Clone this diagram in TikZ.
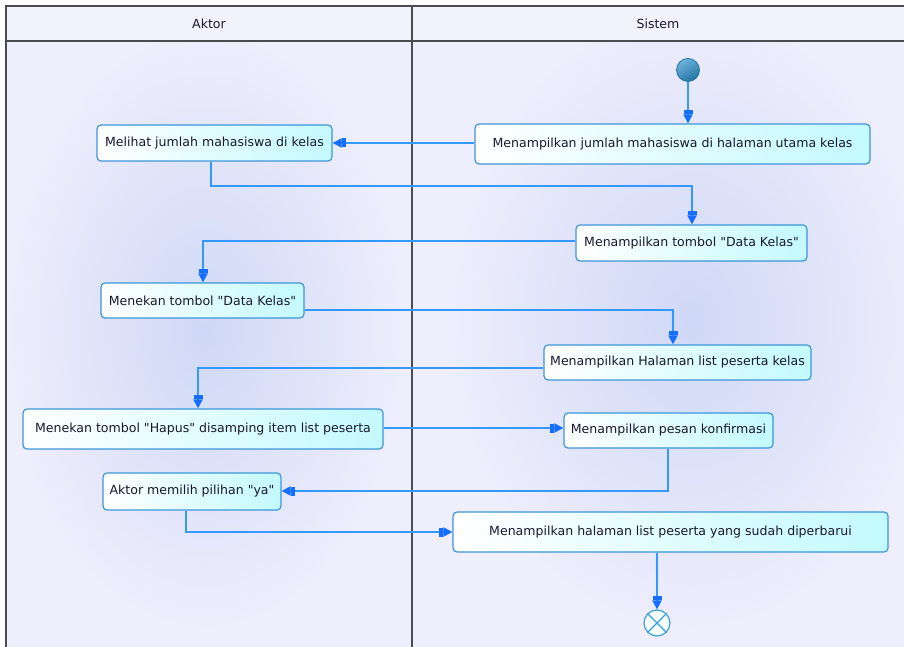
\documentclass[tikz,border=0pt]{standalone}
\usepackage{fontspec}
\setmainfont{DejaVu Sans}[Ligatures=TeXOff]
\usetikzlibrary{arrows.meta}

\definecolor{bgc}{RGB}{238,238,252}
\definecolor{hdrc}{RGB}{241,242,252}
\definecolor{glowc}{RGB}{207,216,246}
\definecolor{framec}{RGB}{75,75,80}
\definecolor{edgec}{RGB}{51,153,255}
\definecolor{tipc}{RGB}{20,110,255}
\definecolor{boxline}{RGB}{60,150,215}
\definecolor{boxfill}{RGB}{195,250,255}
\definecolor{txtc}{RGB}{25,25,45}
\definecolor{startlight}{RGB}{110,180,220}
\definecolor{startdark}{RGB}{35,115,165}
\definecolor{endline}{RGB}{60,160,220}

\begin{document}
\begin{tikzpicture}[x=1bp,y=-1bp,
  action/.style={draw=boxline, line width=1.2bp, rounded corners=4bp,
    left color=white, right color=boxfill, minimum height=36bp,
    inner sep=0pt, font=\fontsize{12.6}{14}\selectfont, text=txtc},
  flow/.style={draw=edgec, line width=2bp,
    -{Rectangle[length=4bp,width=9bp,color=tipc]Triangle[length=9bp,width=9bp,color=tipc]}},
  lane/.style={font=\fontsize{12.6}{14}\selectfont, text=txtc},
  frameline/.style={draw=framec, line width=2bp}
]
\useasboundingbox (0,0) rectangle (904,647);
\fill[white] (0,0) rectangle (904,647);

% swimlane background with soft glows
\fill[bgc] (5,6) rectangle (904,647);
\begin{scope}
  \clip (5,41) rectangle (412,647);
  \shade[inner color=glowc, outer color=bgc] (205,330) ellipse (200 and 300);
\end{scope}
\begin{scope}
  \clip (412,41) rectangle (904,647);
  \shade[inner color=glowc, outer color=bgc] (690,320) ellipse (240 and 310);
\end{scope}
\fill[hdrc] (5,6) rectangle (904,41);

% lane frame
\draw[frameline] (904,6) -- (6,6) -- (6,647);
\draw[frameline] (6,41) -- (904,41);
\draw[frameline] (412,6) -- (412,647);

\node[lane] (hAktor) at (209,23.5) {Aktor};
\node[lane] (hSistem) at (658,23.5) {Sistem};

% initial and final nodes
\node[circle, minimum size=23bp, inner sep=0pt, draw=startdark, line width=0.8bp,
  top color=startlight, bottom color=startdark, shading angle=30] (start) at (688,70) {};
\node[circle, minimum size=26bp, inner sep=0pt, draw=endline, line width=1.2bp,
  fill=white!85!boxfill] (final) at (657,623) {};
\draw[endline, line width=1.1bp] (final.north east) -- (final.south west)
  (final.north west) -- (final.south east);

% actions
\node[action, minimum width=395bp, minimum height=40bp] (S1) at (672.5,144)
  {Menampilkan jumlah mahasiswa di halaman utama kelas};
\node[action, minimum width=235bp] (A1) at (214.5,143)
  {Melihat jumlah mahasiswa di kelas};
\node[action, minimum width=231bp] (S2) at (691.5,243)
  {Menampilkan tombol "Data Kelas"};
\node[action, minimum width=203bp, minimum height=35bp] (A2) at (202.5,300.5)
  {Menekan tombol "Data Kelas"};
\node[action, minimum width=267bp, minimum height=35bp] (S3) at (677.5,362.5)
  {Menampilkan Halaman list peserta kelas};
\node[action, minimum width=360bp, minimum height=40bp] (A3) at (203,429)
  {Menekan tombol "Hapus" disamping item list peserta};
\node[action, minimum width=209bp, minimum height=35bp] (S4) at (668.5,430.5)
  {Menampilkan pesan konfirmasi};
\node[action, minimum width=178bp, minimum height=37bp] (A4) at (192,491.5)
  {Aktor memilih pilihan "ya"};
\node[action, minimum width=435bp, minimum height=40bp] (S5) at (670.5,532)
  {Menampilkan halaman list peserta yang sudah diperbarui};

% control flow
\draw[flow] (start) -- (start |- S1.north);
\draw[flow] ([yshift=1bp]S1.west) -- ([yshift=1bp]S1.west -| A1.east);
\draw[flow] ([xshift=-3.5bp]A1.south) -- ++(0,24) -| ([xshift=0.5bp]S2.north);
\draw[flow] ([yshift=2bp]S2.west) -| ([xshift=0.5bp]A2.north);
\draw[flow] ([yshift=-9.5bp]A2.east) -| ([xshift=-4.5bp]S3.north);
\draw[flow] ([yshift=-5.5bp]S3.west) -| ([xshift=-5bp]A3.north);
\draw[flow] ([yshift=1bp]A3.east) -- ([yshift=1bp]A3.east -| S4.west);
\draw[flow] ([xshift=-0.5bp]S4.south) |- ([yshift=0.5bp]A4.east);
\draw[flow] ([xshift=-6bp]A4.south) |- (S5.west);
\draw[flow] (final |- S5.south) -- (final);
\end{tikzpicture}
\end{document}
